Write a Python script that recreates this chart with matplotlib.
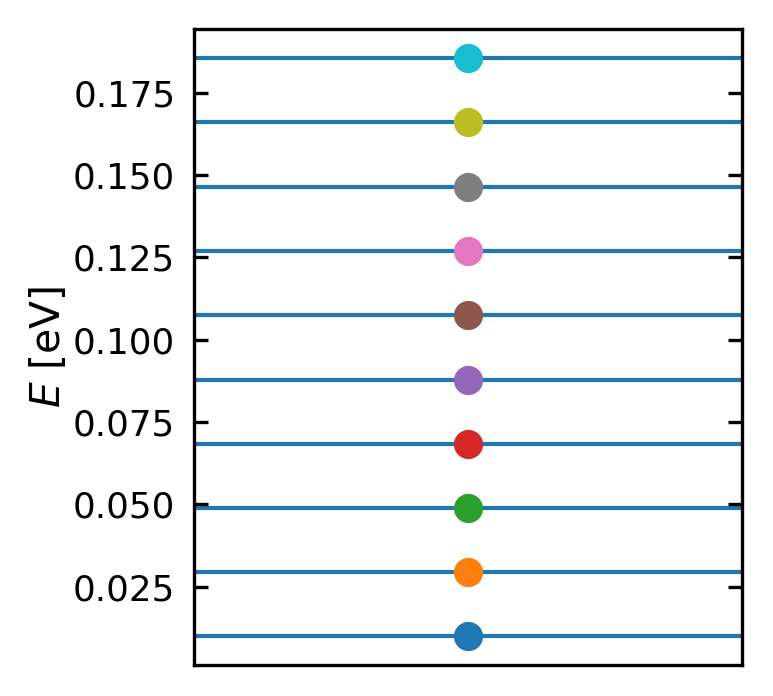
import matplotlib
matplotlib.use("Agg")
import matplotlib.pyplot as plt

# energy levels (eV)
levels = [0.0100, 0.0294, 0.0489, 0.0684, 0.0879, 0.1074, 0.1270, 0.1465, 0.1660, 0.1855]
yticks = [0.025, 0.050, 0.075, 0.100, 0.125, 0.150, 0.175]

plt.rcParams["font.size"] = 8.6

fig = plt.figure(figsize=(773 / 300, 696 / 300), dpi=300)
ax = fig.add_axes([0.251, 0.0445, 0.709, 0.9135])

for E in levels:
    ax.axhline(E, color="C0", lw=1.0, zorder=1)
for i, E in enumerate(levels):
    ax.plot(0, E, "o", color=f"C{i}", ms=6.0, zorder=3)

ax.set_xticks([])
ax.set_yticks(yticks)
ax.set_yticklabels([f"{t:.3f}" for t in yticks])
ax.tick_params(axis="y", direction="in", left=True, right=True,
               length=3.4, width=0.8, pad=4.5)
for s in ax.spines.values():
    s.set_linewidth(0.8)
ax.set_ylabel("$E$ [eV]", fontsize=9.8, labelpad=1)

fig.savefig("out.png", dpi=300)
